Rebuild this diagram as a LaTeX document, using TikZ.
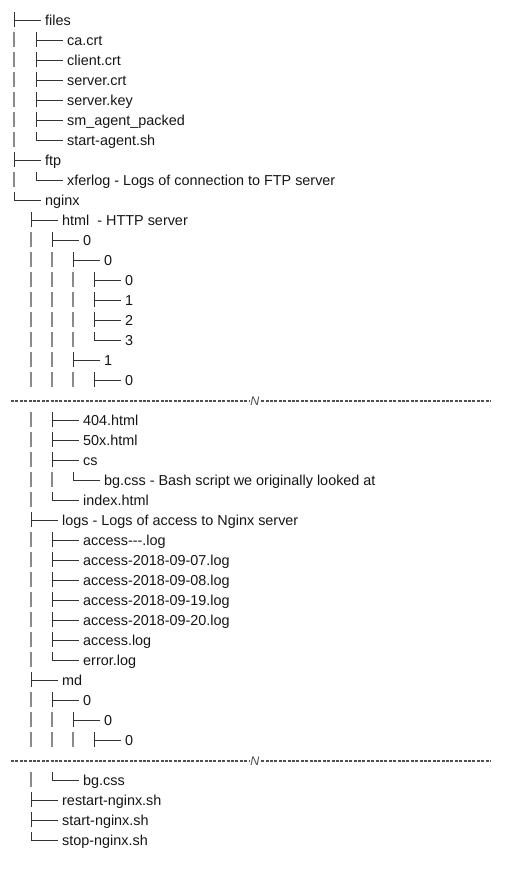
\documentclass[tikz,border=0pt]{standalone}
\usepackage{fontspec}
\setmainfont{Liberation Sans}
\usepackage{tikz}
\usetikzlibrary{calc}
\definecolor{inktext}{HTML}{151515}
\definecolor{inkline}{HTML}{333333}
\definecolor{guidegray}{HTML}{8A8A8A}
\definecolor{cutgray}{HTML}{505050}

\begin{document}
\begin{tikzpicture}[
  x=1pt, y=-1pt,
  entry/.style={anchor=base west, inner sep=0pt, font=\fontsize{14.4}{17}\selectfont, text=inktext},
  brk/.style={inner sep=1.5pt, font=\fontsize{12.5}{14}\selectfont\itshape, text=cutgray},
  branch/.style={line width=0.9pt, draw=inkline},
  guide/.style={line width=1.2pt, draw=guidegray},
  cut/.style={line width=1.5pt, draw=cutgray, dash pattern=on 3pt off 1.4pt}
]
  \useasboundingbox (0,0) rectangle (520,886);
  % top level
  \node[entry] (files)   at (45,25.5)  {files};
  \node[entry] (ca)      at (67,45.5)  {ca.crt};
  \node[entry] (client)  at (67,65.5)  {client.crt};
  \node[entry] (srvcrt)  at (67,85.5)  {server.crt};
  \node[entry] (srvkey)  at (67,105.5) {server.key};
  \node[entry] (agentpk) at (67,125.5) {sm\_agent\_packed};
  \node[entry] (startag) at (67,145.5) {start-agent.sh};
  \node[entry] (ftp)     at (45,165.5) {ftp};
  \node[entry] (xferlog) at (67,185.5) {xferlog - Logs of connection to FTP server};
  \node[entry] (nginx)   at (45,205.5) {nginx};
  % html
  \node[entry] (html)    at (62,225.5)  {html~ - HTTP server};
  \node[entry] (h0)      at (83,245.5)  {0};
  \node[entry] (h00)     at (104,265.5) {0};
  \node[entry] (h000)    at (125,285.5) {0};
  \node[entry] (h001)    at (125,305.5) {1};
  \node[entry] (h002)    at (125,325.5) {2};
  \node[entry] (h003)    at (125,345.5) {3};
  \node[entry] (h01)     at (104,365.5) {1};
  \node[entry] (h010)    at (125,385.5) {0};
  \node[brk]   (brk1)    at (255,401)   {N};
  \node[entry] (p404)    at (83,425.5)  {404.html};
  \node[entry] (p50x)    at (83,445.5)  {50x.html};
  \node[entry] (cs)      at (83,465.5)  {cs};
  \node[entry] (bgcss)   at (104,485.5) {bg.css - Bash script we originally looked at};
  \node[entry] (index)   at (83,505.5)  {index.html};
  % logs
  \node[entry] (logs)    at (62,525.5) {logs - Logs of access to Nginx server};
  \node[entry] (acc0)    at (83,545.5) {access-{}-{}-.log};
  \node[entry] (acc7)    at (83,565.5) {access-2018-09-07.log};
  \node[entry] (acc8)    at (83,585.5) {access-2018-09-08.log};
  \node[entry] (acc19)   at (83,605.5) {access-2018-09-19.log};
  \node[entry] (acc20)   at (83,625.5) {access-2018-09-20.log};
  \node[entry] (acclog)  at (83,645.5) {access.log};
  \node[entry] (errlog)  at (83,665.5) {error.log};
  % md and scripts
  \node[entry] (md)      at (62,685.5)  {md};
  \node[entry] (m0)      at (83,705.5)  {0};
  \node[entry] (m00)     at (104,725.5) {0};
  \node[entry] (m000)    at (125,745.5) {0};
  \node[brk]   (brk2)    at (255,761)   {N};
  \node[entry] (bgmd)    at (83,785.5)  {bg.css};
  \node[entry] (restart) at (62,805.5)  {restart-nginx.sh};
  \node[entry] (startng) at (62,825.5)  {start-nginx.sh};
  \node[entry] (stopng)  at (62,845.5)  {stop-nginx.sh};

  \foreach \n in {files,ca,client,srvcrt,srvkey,agentpk,ftp,html,h0,h00,h000,h001,h002,h01,h010,
                  p404,p50x,cs,logs,acc0,acc7,acc8,acc19,acc20,acclog,md,m0,m00,m000,restart,startng}{
    \draw[branch] ($(\n.base west)+(-31,-13.5)$) -- ++(0,15)
                  ($(\n.base west)+(-31,-5.5)$) -- ++(27,0);}
  \foreach \n in {startag,xferlog,nginx,h003,bgcss,index,errlog,bgmd,stopng}{
    \draw[branch] ($(\n.base west)+(-31,-13.5)$) |- ++(27,8);}
  % pass-through bars
  \foreach \x/\rows in {14/{ca,client,srvcrt,srvkey,agentpk,startag,xferlog},
      31/{h0,h00,h000,h001,h002,h003,h01,h010,p404,p50x,cs,bgcss,index,
          acc0,acc7,acc8,acc19,acc20,acclog,errlog,m0,m00,m000,bgmd},
      52/{h00,h000,h001,h002,h003,h01,h010,bgcss,m00,m000},
      73/{h000,h001,h002,h003,h010,m000}}{
    \foreach \n in \rows {\draw[guide] (\x,0 |- \n.base) ++(0,-13.5) -- ++(0,15);}}
  % cut marks
  \foreach \b in {brk1,brk2}{
    \draw[cut] (11,0 |- \b.center) -- (\b.west);
    \draw[cut] (\b.east) -- (491,0 |- \b.center);}
\end{tikzpicture}
\end{document}
